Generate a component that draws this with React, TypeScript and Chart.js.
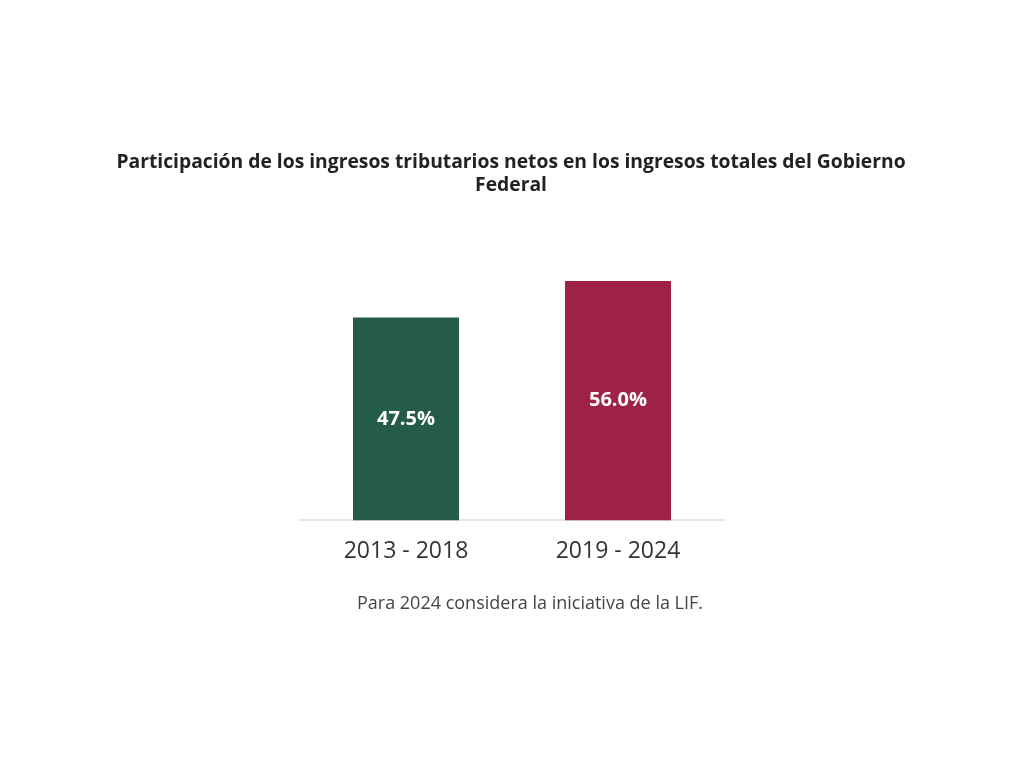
import React, { useEffect, useRef } from "react";
import { Chart, registerables } from "chart.js";

Chart.register(...registerables);

const categories = ["2013 - 2018", "2019 - 2024"];
const values = [47.5, 56.0];
const valueLabels = ["47.5%", "56.0%"];
const barColors = ["#255B4B", "#9E2246"];
const titleLines = [
  "Participación de los ingresos tributarios netos en los ingresos totales del Gobierno",
  "Federal",
];
const footnote = "Para 2024 considera la iniciativa de la LIF.";

const FONT = "'Open Sans', 'DejaVu Sans', sans-serif";

const textPlugin = {
  id: "textPlugin",
  afterDatasetsDraw(chart: any) {
    const ctx = chart.ctx;
    ctx.save();
    const meta = chart.getDatasetMeta(0);
    ctx.fillStyle = "#ffffff";
    ctx.font = `bold 20px ${FONT}`;
    ctx.textAlign = "center";
    ctx.textBaseline = "middle";
    meta.data.forEach((bar: any, i: number) => {
      const y = (bar.y + bar.base) / 2;
      ctx.fillText(valueLabels[i], bar.x, y);
    });
    ctx.fillStyle = "#222222";
    ctx.font = `bold 19.3px ${FONT}`;
    ctx.fillText(titleLines[0], 511, 163);
    ctx.fillText(titleLines[1], 511, 186);
    ctx.fillStyle = "#444444";
    ctx.font = `18px ${FONT}`;
    ctx.fillText(footnote, 530, 604);
    ctx.restore();
  },
};

export default function App() {
  const ref = useRef<HTMLCanvasElement>(null);
  useEffect(() => {
    const chart = new Chart(ref.current!, {
      type: "bar",
      data: {
        labels: categories,
        datasets: [
          {
            data: values,
            backgroundColor: barColors,
            barPercentage: 0.5,
            categoryPercentage: 1.0,
          },
        ],
      },
      options: {
        responsive: false,
        animation: false,
        layout: { padding: { left: 300, right: 300, top: 264, bottom: 186 } },
        plugins: {
          legend: { display: false },
          tooltip: { enabled: false },
          title: { display: false },
        },
        scales: {
          x: {
            grid: { display: false, drawTicks: false },
            border: { display: true, color: "#e6e6e6", width: 2 },
            ticks: {
              padding: 17,
              color: "#333333",
              font: { family: FONT, size: 23 },
            },
          },
          y: {
            display: false,
            min: 0,
            max: 60,
          },
        },
      },
      plugins: [textPlugin],
    });
    return () => chart.destroy();
  }, []);
  return (
    <div style={{ position: "absolute", left: 0, top: 0, width: 1024, height: 768, background: "#fff" }}>
      <canvas ref={ref} width={1024} height={768} />
    </div>
  );
}
